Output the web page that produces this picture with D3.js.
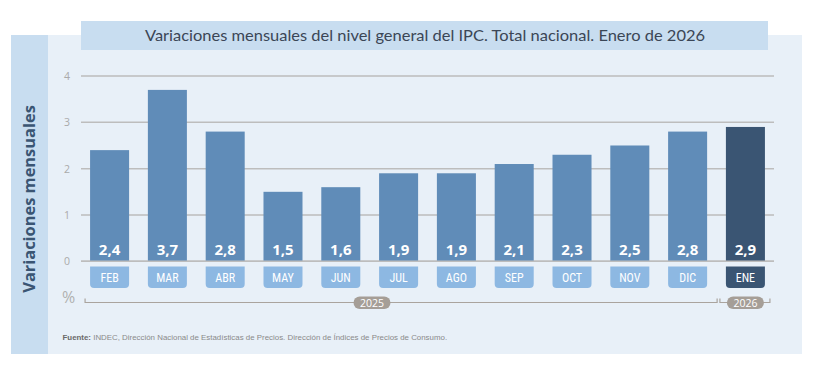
<!DOCTYPE html>
<html><head><meta charset="utf-8">
<script src="https://cdn.jsdelivr.net/npm/d3@7"></script>
<style>body{margin:0;background:#fff}svg{display:block}</style>
</head><body>
<svg id="c" width="826" height="365"></svg>
<script>
const months = ["FEB","MAR","ABR","MAY","JUN","JUL","AGO","SEP","OCT","NOV","DIC","ENE"];
const values = [2.4,3.7,2.8,1.5,1.6,1.9,1.9,2.1,2.3,2.5,2.8,2.9];
const years = [{label:"2025", from:"FEB", to:"DIC"},{label:"2026", from:"ENE", to:"ENE"}];
const yTicks = [0,1,2,3,4];
const title = "Variaciones mensuales del nivel general del IPC. Total nacional. Enero de 2026";
const yTitle = "Variaciones mensuales";
const source = "INDEC, Dirección Nacional de Estadísticas de Precios. Dirección de Índices de Precios de Consumo.";

const svg = d3.select("#c");
// background panels
svg.append("rect").attr("x",11).attr("y",35).attr("width",791).attr("height",319).attr("fill","#e8f0f8");
svg.append("rect").attr("x",11).attr("y",35).attr("width",37).attr("height",319).attr("fill","#c8ddf0");
svg.append("rect").attr("x",81).attr("y",21).attr("width",687).attr("height",29).attr("fill","#c8ddf0");
svg.append("text").attr("x",425).attr("y",41).attr("text-anchor","middle")
  .attr("font-family","Lato, 'Open Sans', sans-serif").attr("font-size",16).attr("fill","#3b4656")
  .attr("textLength",560).attr("lengthAdjust","spacingAndGlyphs").text(title);

const x = d3.scaleBand().domain(months).range([81,774]).paddingInner(0.325).paddingOuter(0.157);
const y = d3.scaleLinear().domain([0,4]).range([261.3,76]);

// grid
const g = svg.append("g");
g.selectAll("line.grid").data(yTicks).join("line")
  .attr("x1",81).attr("x2",774).attr("y1",d=>y(d)).attr("y2",d=>y(d))
  .attr("stroke","#bdbdbd").attr("stroke-width",1.5);
g.selectAll("text.yt").data(yTicks).join("text")
  .attr("x",70).attr("y",d=>y(d)+4).attr("text-anchor","end")
  .attr("font-family","'Open Sans', sans-serif").attr("font-size",10.5).attr("fill","#aaaaaa").text(d=>d);

// bars
const last = months[months.length-1];
g.selectAll("rect.bar").data(months).join("rect")
  .attr("x",d=>x(d)).attr("width",x.bandwidth())
  .attr("y",(d,i)=>y(values[i])).attr("height",(d,i)=>y(0)-y(values[i]))
  .attr("fill",d=>d===last?"#3a5573":"#608cb8");
// redraw zero line over bars
g.append("line").attr("x1",81).attr("x2",774).attr("y1",y(0)).attr("y2",y(0)).attr("stroke","#bdbdbd").attr("stroke-width",1.5);

g.selectAll("text.val").data(months).join("text")
  .attr("x",d=>x(d)+x.bandwidth()/2).attr("y",255)
  .attr("text-anchor","middle").attr("font-family","'Open Sans', sans-serif").attr("font-weight",700)
  .attr("font-size",15).attr("fill","#fff").text((d,i)=>String(values[i]).replace(".",","));

// month tabs
const tabTop = 266.5, tabH = 21.5, r = 4;
function tabPath(x0,w){
  return `M${x0},${tabTop}H${x0+w}V${tabTop+tabH-r}Q${x0+w},${tabTop+tabH} ${x0+w-r},${tabTop+tabH}H${x0+r}Q${x0},${tabTop+tabH} ${x0},${tabTop+tabH-r}Z`;
}
g.selectAll("path.tab").data(months).join("path")
  .attr("d",d=>tabPath(x(d),x.bandwidth()))
  .attr("fill",d=>d===last?"#3a5573":"#8db8e2");
g.selectAll("text.mon").data(months).join("text")
  .attr("x",d=>x(d)+x.bandwidth()/2).attr("y",282)
  .attr("text-anchor","middle").attr("font-family","'Liberation Sans Narrow','Roboto Condensed',Roboto,sans-serif")
  .attr("font-size",12).attr("fill","#fff").text(d=>d);

// % label
svg.append("text").attr("x",62).attr("y",303).attr("font-family","'Open Sans', sans-serif")
  .attr("font-size",16).attr("fill","#b0b0b0").text("%");

// year brackets
const by = 302.5;
years.forEach((yr,i)=>{
  const x0 = i===0 ? x(yr.from)-5 : x(yr.from)-6;
  const x1 = i===0 ? x(yr.to)+x.bandwidth()+10 : x(yr.to)+x.bandwidth()+5;
  svg.append("path").attr("d",`M${x0},${by-4}V${by}H${x1}V${by-4}`).attr("fill","none")
    .attr("stroke","#aaa49e").attr("stroke-width",1.2);
  const cx = i===0 ? 372 : x(yr.from)+x.bandwidth()/2;
  svg.append("rect").attr("x",cx-18.5).attr("y",296.5).attr("width",37).attr("height",12.5).attr("rx",6.25)
    .attr("fill","#a59e97");
  svg.append("text").attr("x",cx).attr("y",306.5).attr("text-anchor","middle")
    .attr("font-family","'Open Sans', sans-serif").attr("font-size",10.5).attr("fill","#fff").text(yr.label);
});

// y title
svg.append("text").attr("transform","translate(35,199) rotate(-90)").attr("text-anchor","middle")
  .attr("font-family","'Open Sans', sans-serif").attr("font-weight",700).attr("font-size",16.4)
  .attr("fill","#3a5573").text(yTitle);

// source
const st = svg.append("text").attr("x",62.5).attr("y",339.5).attr("font-family","'Liberation Sans', Arial, sans-serif")
  .attr("font-size",7.9).attr("fill","#8a8a8a");
st.append("tspan").attr("font-weight",700).attr("fill","#6a6a6a").text("Fuente: ");
st.append("tspan").text(source);
</script>
</body></html>
